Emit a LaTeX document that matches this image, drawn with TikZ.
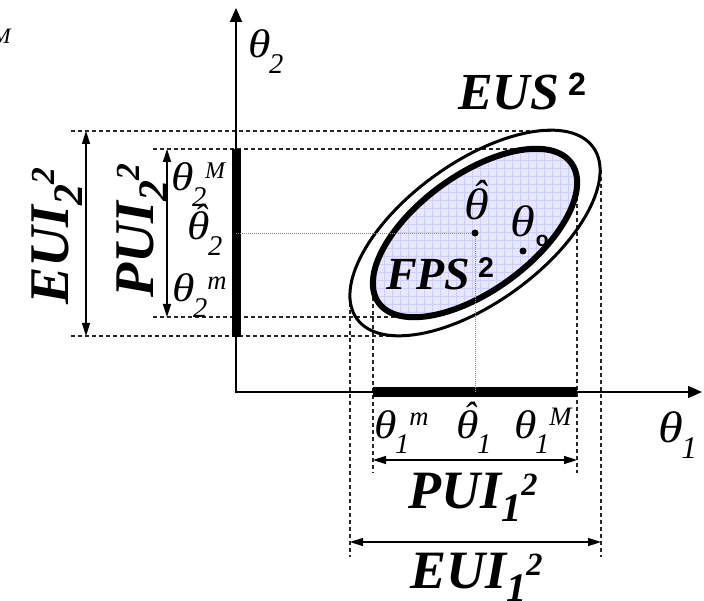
\documentclass[tikz,border=0pt]{standalone}
\usepackage{fontspec}
\setmainfont{Liberation Serif}
\newfontfamily\sansfnt{Liberation Sans}
\usepackage{tikz}
\usetikzlibrary{arrows.meta, positioning, calc}
\newcommand{\dnx}[1]{\kern-0.04em\raisebox{-0.4em}{\scalebox{0.75}{#1}}}
\newcommand{\upx}[1]{\raisebox{0.32em}{\scalebox{0.7}{#1}}}
\newcommand{\bdn}[1]{\raisebox{-0.25em}{\scalebox{0.75}{#1}}}
\newcommand{\bup}[1]{\raisebox{0.24em}{\scalebox{0.6}{#1}}}
\newcommand{\supsq}[1]{\raisebox{0.28em}{\scalebox{0.62}{\sansfnt\bfseries\upshape #1}}}
\newcommand{\tht}{\scalebox{1.2}[1.05]{θ}}
\newcommand{\thh}{\ooalign{\tht\cr\hidewidth\kern0.12em\raisebox{0.24em}{ˆ}\hidewidth\cr}}
\definecolor{fpsfill}{RGB}{230,230,255}
\definecolor{fpsgrid}{RGB}{206,206,250}

\begin{document}
\begin{tikzpicture}[x=1pt, y=-1pt,
    axis/.style={line width=1.6pt, {Triangle[length=14pt, width=12pt]}-{Triangle[length=14pt, width=12pt]}},
    span/.style={line width=1.5pt, {Triangle[length=13pt, width=8pt]}-{Triangle[length=13pt, width=8pt]}},
    guide/.style={line width=1.1pt, dash pattern=on 4pt off 3pt, black!85},
    fine/.style={line width=0.9pt, dash pattern=on 1pt off 1pt, black!45},
    bar/.style={line width=9pt},
    big/.style={font=\fontsize{54}{54}\selectfont\bfseries\itshape, inner sep=0pt, anchor=base west},
    tlab/.style={font=\fontsize{38}{38}\selectfont\itshape, inner sep=0pt, anchor=base west},
    dot/.style={circle, fill, inner sep=0pt, minimum size=7pt}]
    \useasboundingbox (0,0) rectangle (704,601);

    \coordinate (O) at (236,392);
    \coordinate (xend) at (702,392);
    \coordinate (yend) at (236,8);
    \coordinate (th) at (475,233);

    \coordinate (eTop) at (552,131);  \coordinate (eBot) at (398,336);
    \coordinate (eLft) at (350,296);  \coordinate (eRgt) at (601,170);
    \coordinate (pTop) at (536,149);  \coordinate (pBot) at (414,317);
    \coordinate (pLft) at (373,283);  \coordinate (pRgt) at (577,183);

    \coordinate (e2t) at (86,131);   \coordinate (e2b) at (86,336);
    \coordinate (p2t) at (167,149);  \coordinate (p2b) at (167,317);
    \coordinate (p1l) at (373,460);  \coordinate (p1r) at (577,460);
    \coordinate (e1l) at (350,542);  \coordinate (e1r) at (601,542);

    \coordinate (g1) at (71,131);   \coordinate (g2) at (153,149);
    \coordinate (g3) at (153,317);  \coordinate (g4) at (71,336);
    \coordinate (g5) at (350,557);  \coordinate (g6) at (373,473);
    \coordinate (g7) at (577,473);  \coordinate (g8) at (601,557);

    \draw[guide] (g1) -- (eTop);
    \draw[guide] (g2) -- (pTop);
    \draw[guide] (g3) -- (pBot);
    \draw[guide] (g4) -- (eBot);
    \draw[guide] (eLft) -- (g5);
    \draw[guide] (pLft) -- (g6);
    \draw[guide] (pRgt) -- (g7);
    \draw[guide] (eRgt) -- (g8);

    \draw[axis] (yend) -- (O) -- (xend);
    \draw[bar] (373,392) -- (577,392);
    \draw[bar] (236,149) -- (236,337);

    \draw[line width=3pt, rotate around={36:(th)}] (th) ellipse [x radius=146, y radius=70];
    \fill[fpsfill, rotate around={36:(th)}] (th) ellipse [x radius=119, y radius=58];
    \begin{scope}
        \clip[rotate around={36:(th)}] (th) ellipse [x radius=119, y radius=58];
        \draw[fpsgrid, line width=0.6pt, step=8pt] (360,140) grid (590,330);
    \end{scope}
    \draw[line width=6pt, rotate around={36:(th)}] (th) ellipse [x radius=119, y radius=58];

    \draw[fine] (236,233) -- (th);
    \draw[fine] (th) -- (O -| th);

    \node[dot] (thdot) at (th) {};
    \node[dot] (todot) at (523,251) {};

    \draw[span] (e2t) -- (e2b);
    \draw[span] (p2t) -- (p2b);
    \draw[span] (p1l) -- (p1r);
    \draw[span] (e1l) -- (e1r);

    \node[big, font=\fontsize{52}{52}\selectfont\bfseries\itshape] (eus) at (458,110) {EUS\,\supsq{2}};
    \node[big, font=\fontsize{46}{46}\selectfont\bfseries\itshape] (fps) at (386,290) {FPS\,\supsq{2}};
    \node[big, rotate=90, font=\fontsize{56}{56}\selectfont\bfseries\itshape] (eui2) at (68,305) {EUI\bdn{2}\bup{2}};
    \node[big, rotate=90, font=\fontsize{56}{56}\selectfont\bfseries\itshape] (pui2) at (153,298) {PUI\bdn{2}\bup{2}};
    \node[big] (pui1) at (408,508) {PUI\bdn{1}\bup{2}};
    \node[big] (eui1) at (410,588) {EUI\bdn{1}\bup{2}};

    \node[tlab, font=\fontsize{42}{42}\selectfont\itshape] (thl) at (464,220) {\thh};
    \node[tlab, font=\fontsize{42}{42}\selectfont\itshape] (tol) at (510,237) {\tht\kern0.02em\raisebox{-0.22em}{\scalebox{0.5}{\sansfnt\bfseries\upshape o}}};
    \node[tlab, font=\fontsize{42}{42}\selectfont\itshape] (t1ax) at (658,442) {\tht\dnx{1}};
    \node[tlab] (t2ax) at (248,58) {\tht\dnx{2}};

    \node[tlab] (t1m) at (374,438) {\tht\dnx{1}\upx{m}};
    \node[tlab] (t1h) at (456,438) {\thh\dnx{1}};
    \node[tlab] (t1M) at (514,438) {\tht\dnx{1}\upx{M}};
    \node[tlab] (t2M) at (171,191) {\tht\dnx{2}\kern-0.03em\upx{\scalebox{0.9}{M}}};
    \node[tlab] (t2h) at (187,240) {\thh\dnx{2}};
    \node[tlab] (t2m) at (172,302) {\tht\dnx{2}\upx{m}};

    \node[font=\fontsize{22}{22}\selectfont\itshape, inner sep=0pt, anchor=base east] (cutM) at (11,44) {M};
\end{tikzpicture}
\end{document}
